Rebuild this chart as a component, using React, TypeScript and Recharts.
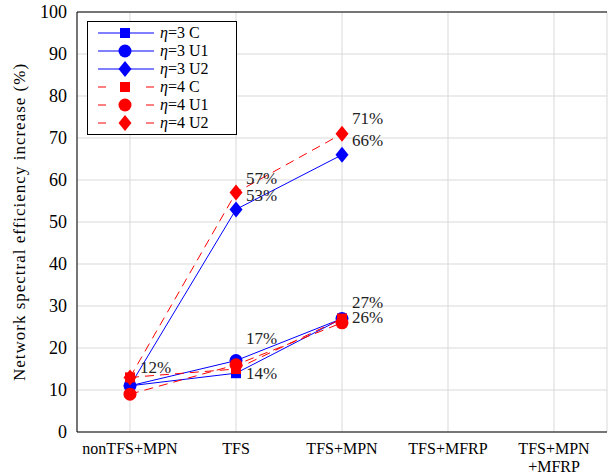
import React from 'react';
import {
  LineChart,
  Line,
  XAxis,
  YAxis,
  CartesianGrid,
  ReferenceDot,
  ReferenceLine,
  Label,
} from 'recharts';

const categories = ['nonTFS+MPN', 'TFS', 'TFS+MPN', 'TFS+MFRP', 'TFS+MPN\n+MFRP'];

const eta3C = [11, 14, 27, null, null];
const eta3U1 = [11, 17, 27, null, null];
const eta3U2 = [11, 53, 66, null, null];
const eta4C = [13, 15, 27, null, null];
const eta4U1 = [9, 16, 26, null, null];
const eta4U2 = [13, 57, 71, null, null];

const yTicks = [0, 10, 20, 30, 40, 50, 60, 70, 80, 90, 100];

// annotations: category, anchor value, text
const notes = [
  { cat: 'nonTFS+MPN', y: 12, text: '12%', dy: -14 },
  { cat: 'TFS', y: 17, text: '17%', dy: -22 },
  { cat: 'TFS', y: 14, text: '14%', dy: 0 },
  { cat: 'TFS', y: 57, text: '57%', dy: -14 },
  { cat: 'TFS', y: 53, text: '53%', dy: -14 },
  { cat: 'TFS+MPN', y: 71, text: '71%', dy: -15 },
  { cat: 'TFS+MPN', y: 66, text: '66%', dy: -14 },
  { cat: 'TFS+MPN', y: 27, text: '27%', dy: -16 },
  { cat: 'TFS+MPN', y: 26, text: '26%', dy: -5 },
];

const BLUE = '#0000ff';
const RED = '#ff0000';
const FONT = '"Liberation Serif", serif';

const series = [
  { key: 'e3c', values: eta3C, eta: '3', tag: 'C', color: BLUE, dashed: false, shape: 'square' },
  { key: 'e3u1', values: eta3U1, eta: '3', tag: 'U1', color: BLUE, dashed: false, shape: 'circle' },
  { key: 'e3u2', values: eta3U2, eta: '3', tag: 'U2', color: BLUE, dashed: false, shape: 'diamond' },
  { key: 'e4c', values: eta4C, eta: '4', tag: 'C', color: RED, dashed: true, shape: 'square' },
  { key: 'e4u1', values: eta4U1, eta: '4', tag: 'U1', color: RED, dashed: true, shape: 'circle' },
  { key: 'e4u2', values: eta4U2, eta: '4', tag: 'U2', color: RED, dashed: true, shape: 'diamond' },
];

const data = categories.map((name, i) => {
  const row: Record<string, any> = { name };
  series.forEach((s) => {
    row[s.key] = s.values[i];
  });
  return row;
});

function marker(shape: string, color: string, cx: number, cy: number, key?: any) {
  if (shape === 'square') {
    return <rect key={key} x={cx - 5} y={cy - 5} width={10} height={10} fill={color} />;
  }
  if (shape === 'circle') {
    return <circle key={key} cx={cx} cy={cy} r={6.5} fill={color} />;
  }
  return (
    <polygon
      key={key}
      points={`${cx},${cy - 8} ${cx + 6.5},${cy} ${cx},${cy + 8} ${cx - 6.5},${cy}`}
      fill={color}
    />
  );
}

function XTick(props: any) {
  const { x, y, payload } = props;
  const lines = String(payload.value).split('\n');
  return (
    <text x={x} y={y + 14} textAnchor="middle" fontFamily={FONT} fontSize={16} fill="#000">
      {lines.map((l, i) => (
        <tspan key={i} x={x} dy={i === 0 ? 0 : 18}>
          {l}
        </tspan>
      ))}
    </text>
  );
}

function LegendBox() {
  return (
    <div
      style={{
        position: 'absolute',
        left: 87,
        top: 21,
        border: '1px solid #000',
        background: '#fff',
        width: 148,
        padding: '2px 0',
        fontFamily: FONT,
        fontSize: 16,
        lineHeight: '18px',
      }}
    >
      {series.map((s) => (
        <div key={s.key} style={{ display: 'flex', alignItems: 'center', height: 18 }}>
          <svg width={72} height={18} style={{ flex: 'none' }}>
            <line
              x1={10}
              x2={66}
              y1={9}
              y2={9}
              stroke={s.color}
              strokeWidth={1}
              strokeDasharray={s.dashed ? '8 40 8' : undefined}
            />
            {marker(s.shape, s.color, 37, 9)}
          </svg>
          <span>
            <i>η</i>={s.eta} {s.tag}
          </span>
        </div>
      ))}
    </div>
  );
}

export default function App() {
  return (
    <div style={{ position: 'absolute', left: 0, top: 0, width: 608, height: 476, background: '#fff' }}>
      <LineChart width={608} height={476} data={data} margin={{ top: 12, right: 1, bottom: 0, left: 0 }}>
        <CartesianGrid stroke="#d9d9d9" strokeWidth={1} />
        <XAxis
          dataKey="name"
          padding={{ left: 53, right: 53 }}
          height={44}
          tickLine={false}
          interval={0}
          stroke="#000"
          tick={<XTick />}
        />
        <YAxis
          domain={[0, 100]}
          ticks={yTicks}
          width={77}
          tickLine={false}
          stroke="#000"
          tickMargin={4}
          tick={{ fontFamily: FONT, fontSize: 18, fill: '#000' }}
        >
          <Label
            value="Network spectral efficiency increase (%)"
            angle={-90}
            position="insideLeft"
            offset={19}
            style={{ fontFamily: FONT, fontSize: 17, fill: '#000', textAnchor: 'middle', letterSpacing: 1 }}
          />
        </YAxis>
        <ReferenceLine y={100} stroke="#000" />
        {series.map((s) => (
          <Line
            key={s.key}
            dataKey={s.key}
            stroke={s.color}
            strokeWidth={1}
            strokeDasharray={s.dashed ? '9 6' : undefined}
            isAnimationActive={false}
            connectNulls={false}
            activeDot={false}
            dot={(p: any) =>
              p.cy == null ? <g key={p.index} /> : marker(s.shape, s.color, p.cx, p.cy, p.index)
            }
          />
        ))}
        {notes.map((n, i) => (
          <ReferenceDot
            key={i}
            x={n.cat}
            y={n.y}
            r={0}
            shape={(p: any) => (
              <text
                x={p.cx + 10}
                y={p.cy + n.dy}
                dominantBaseline="central"
                fontFamily={FONT}
                fontSize={17}
                fill="#222"
              >
                {n.text}
              </text>
            )}
          />
        ))}
      </LineChart>
      <LegendBox />
    </div>
  );
}
